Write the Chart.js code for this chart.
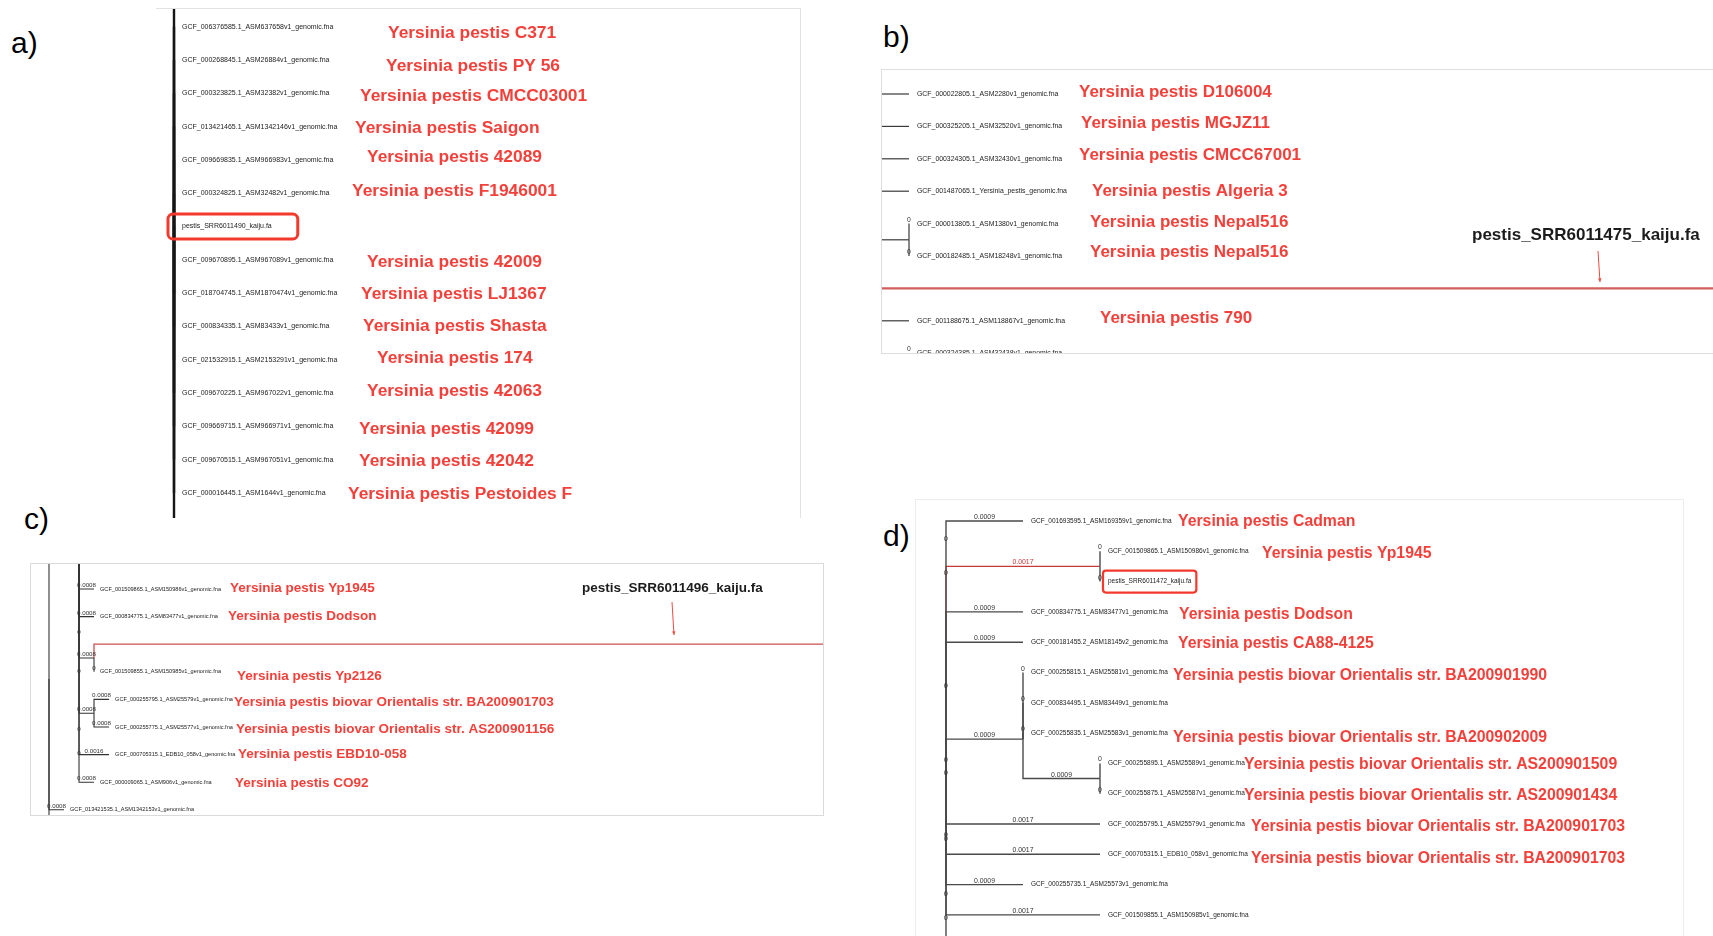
<!DOCTYPE html>
<html><head><meta charset="utf-8">
<script src="https://cdn.jsdelivr.net/npm/chart.js@4.4.1/dist/chart.umd.min.js"></script>
<style>
html,body{margin:0;padding:0;background:#fff;width:1713px;height:936px;overflow:hidden;position:relative;font-family:"Liberation Sans",Arial,sans-serif}
canvas.panel{position:absolute;display:block}
.tag{position:absolute;font-size:30px;line-height:30px;color:#000;font-family:"Liberation Sans",Arial,sans-serif}
</style></head><body>
<div class="tag" style="left:11px;top:28px">a)</div>
<div class="tag" style="left:883px;top:22px">b)</div>
<div class="tag" style="left:24px;top:504px">c)</div>
<div class="tag" style="left:883px;top:521px">d)</div>
<canvas id="ca" class="panel" width="645" height="510" style="left:156px;top:8px"></canvas>
<canvas id="cb" class="panel" width="832" height="285" style="left:881px;top:69px"></canvas>
<canvas id="cc" class="panel" width="794" height="253" style="left:30px;top:563px"></canvas>
<canvas id="cd" class="panel" width="769" height="437" style="left:915px;top:499px"></canvas>
<script>
// ================= DATA =================
// ---- Panel a ----
const aTipNames = ['',
  'GCF_006376585.1_ASM637658v1_genomic.fna','GCF_000268845.1_ASM26884v1_genomic.fna',
  'GCF_000323825.1_ASM32382v1_genomic.fna','GCF_013421465.1_ASM1342146v1_genomic.fna',
  'GCF_009669835.1_ASM966983v1_genomic.fna','GCF_000324825.1_ASM32482v1_genomic.fna',
  'pestis_SRR6011490_kaiju.fa',
  'GCF_009670895.1_ASM967089v1_genomic.fna','GCF_018704745.1_ASM1870474v1_genomic.fna',
  'GCF_000834335.1_ASM83433v1_genomic.fna','GCF_021532915.1_ASM2153291v1_genomic.fna',
  'GCF_009670225.1_ASM967022v1_genomic.fna','GCF_009669715.1_ASM966971v1_genomic.fna',
  'GCF_009670515.1_ASM967051v1_genomic.fna','GCF_000016445.1_ASM1644v1_genomic.fna',''];
const aTipRow = [-1,0,1,2,3,4,5,6,7,8,9,10,11,12,13,14,15];
const aTipParent = Array(17).fill('root');
const aTipLen = [0,0,0,0,0,0,0,0,0,0,0,0,0,0,0,0,0];
const aClades = ['root'], aCladeParent = [null], aCladeLen = [0], aCladeRow = [null];
const aStrains = ['','Yersinia pestis C371','Yersinia pestis PY 56','Yersinia pestis CMCC03001',
  'Yersinia pestis Saigon','Yersinia pestis 42089','Yersinia pestis F1946001','',
  'Yersinia pestis 42009','Yersinia pestis LJ1367','Yersinia pestis Shasta','Yersinia pestis 174',
  'Yersinia pestis 42063','Yersinia pestis 42099','Yersinia pestis 42042','Yersinia pestis Pestoides F',''];
const aZeroMarks = [];

// ---- Panel b ----
const bTipNames = ['GCF_000022805.1_ASM2280v1_genomic.fna','GCF_000325205.1_ASM32520v1_genomic.fna',
  'GCF_000324305.1_ASM32430v1_genomic.fna','GCF_001487065.1_Yersinia_pestis_genomic.fna',
  'GCF_000013805.1_ASM1380v1_genomic.fna','GCF_000182485.1_ASM18248v1_genomic.fna',
  'pestis_SRR6011475_kaiju.fa','GCF_001188675.1_ASM118867v1_genomic.fna',
  'GCF_000324385.1_ASM32438v1_genomic.fna',''];
const bTipRow = [0,1,2,3,4,5,6,7,8,9];
const bTipParent = ['root','root','root','root','N','N','root','root','M','M'];
const bTipLen = [0.0009,0.0009,0.0009,0.0009,0,0,0.05,0.0009,0,0];
const bClades = ['root','N','M'], bCladeParent = [null,'root','root'], bCladeLen = [0,0.0009,0.0009], bCladeRow = [null,4.5,8.5];
const bStrains = ['Yersinia pestis D106004','Yersinia pestis MGJZ11','Yersinia pestis CMCC67001',
  'Yersinia pestis Algeria 3','Yersinia pestis Nepal516','Yersinia pestis Nepal516','',
  'Yersinia pestis 790','',''];
const bZeroMarks = [];

// ---- Panel c ----
const cTipNames = ['','GCF_000834455.1_ASM83445v1_genomic.fna',
  'GCF_001509865.1_ASM150986v1_genomic.fna','GCF_000834775.1_ASM83477v1_genomic.fna',
  'pestis_SRR6011496_kaiju.fa','GCF_001509855.1_ASM150985v1_genomic.fna',
  'GCF_000255795.1_ASM25579v1_genomic.fna','GCF_000255775.1_ASM25577v1_genomic.fna',
  'GCF_000705315.1_EDB10_058v1_genomic.fna','GCF_000009065.1_ASM906v1_genomic.fna',
  'GCF_013421535.1_ASM1342153v1_genomic.fna',''];
const cTipRow = [-1,0,1,2,3,4,5,6,7,8,9,10.5];
const cTipParent = ['I','I','I','I','K','K','O','O','I','I','root','root'];
const cTipLen = [0.00082,0.00082,0.00082,0.00082,0.1,0,0.00082,0.00082,0.00164,0.00082,0.00082,0.00082];
const cClades = ['root','I','K','O'], cCladeParent = [null,'root','I','I'], cCladeLen = [0,0.00164,0.00082,0.00082], cCladeRow = [null,-2,3.5,5.5];
const cStrains = ['','','Yersinia pestis Yp1945','Yersinia pestis Dodson','','Yersinia pestis Yp2126',
  'Yersinia pestis biovar Orientalis str. BA200901703','Yersinia pestis biovar Orientalis str. AS200901156',
  'Yersinia pestis EBD10-058','Yersinia pestis CO92','',''];
const cZeroMarks = [['I',2.7],['I',4.1],['I',6.2],['I',7.1]];

// ---- Panel d ----
const dTipNames = ['GCF_001693595.1_ASM169359v1_genomic.fna','GCF_001509865.1_ASM150986v1_genomic.fna',
  'pestis_SRR6011472_kaiju.fa','GCF_000834775.1_ASM83477v1_genomic.fna',
  'GCF_000181455.2_ASM18145v2_genomic.fna','GCF_000255815.1_ASM25581v1_genomic.fna',
  'GCF_000834495.1_ASM83449v1_genomic.fna','GCF_000255835.1_ASM25583v1_genomic.fna',
  'GCF_000255895.1_ASM25589v1_genomic.fna','GCF_000255875.1_ASM25587v1_genomic.fna',
  'GCF_000255795.1_ASM25579v1_genomic.fna','GCF_000705315.1_EDB10_058v1_genomic.fna',
  'GCF_000255735.1_ASM25573v1_genomic.fna','GCF_001509855.1_ASM150985v1_genomic.fna',''];
const dTipRow = [0,1,2,3,4,5,6,7,8,9,10,11,12,13,14.5];
const dTipParent = ['root','A','A','root','root','B','B','B','C','C','root','root','root','root','root'];
const dTipLen = [0.00086,0,0,0.00086,0.00086,0,0,0,0,0,0.00172,0.00172,0.00086,0.00172,0.00086];
const dClades = ['root','A','B','C'], dCladeParent = [null,'root','root','B'], dCladeLen = [0,0.00172,0.00086,0.00086], dCladeRow = [null,1.5,7.2,8.5];
const dStrains = ['Yersinia pestis Cadman','Yersinia pestis Yp1945','','Yersinia pestis Dodson',
  'Yersinia pestis CA88-4125','Yersinia pestis biovar Orientalis str. BA200901990','',
  'Yersinia pestis biovar Orientalis str. BA200902009','Yersinia pestis biovar Orientalis str. AS200901509',
  'Yersinia pestis biovar Orientalis str. AS200901434','Yersinia pestis biovar Orientalis str. BA200901703',
  'Yersinia pestis biovar Orientalis str. BA200901703','','',''];
const dZeroMarks = [['root',0.73],['root',1.85],['root',5.58],['root',8.02],['root',8.45],['root',10.48],['root',10.64],['root',12.44],['root',13.24]];

// ================= LAYOUT / STYLE =================
const FONT = '"Liberation Sans", Arial, sans-serif';
const RED_TXT = '#f4403a';
const PANELS = {
  ca: {left:156, top:8, w:645, h:510, rootPx:18, unitPx:1000, row0Px:18.7, rowPx:33.3,
       tree:[aTipNames,aTipRow,aTipParent,aTipLen,aClades,aCladeParent,aCladeLen,aCladeRow],
       strains:aStrains, zeros:aZeroMarks, lenMode:'none',
       lineColor:'#151515', lineWidth:2.4, hiColor:'#cc3b3b', hiWidth:1.2, highlight:[],
       tipFont:7, tipGap:8, lenFont:6.5, strainFont:17.4,
       strainPlace:[[388,7],[386,6],[360,3],[355,2],[367,-3],[352,-2],[367,2],[361,1],[363,0],[377,-1],[367,-2],[359,3],[359,2],[348,1]],
       box:{tip:'t7', padL:14, padR:26, h:25, lw:3, r:5},
       frame:{top:true,right:true,left:false,bottom:false,color:'#e2e2e2'}},
  cb: {left:881, top:69, w:832, h:285, rootPx:-1, unitPx:32222, row0Px:25, rowPx:32.4,
       tree:[bTipNames,bTipRow,bTipParent,bTipLen,bClades,bCladeParent,bCladeLen,bCladeRow],
       strains:bStrains, zeros:bZeroMarks, lenMode:'zero',
       lineColor:'#3a3a3a', lineWidth:1.2, hiColor:'rgba(205,75,75,0.9)', hiWidth:2.2, highlight:['t6'],
       tipFont:6.9, tipGap:8, lenFont:6.8, strainFont:17,
       strainPlace:[[1079,-2],[1081,-3],[1079,-3],[1092,0],[1090,-1],[1090,-4],[1100,-2]],
       note:{text:'pestis_SRR6011475_kaiju.fa', x:1472, y:235, size:17, a:[1598,251,1600,282]},
       frame:{top:true,right:false,left:true,bottom:true,color:'#dddddd'}},
  cc: {left:30, top:563, w:794, h:253, rootPx:19, unitPx:18300, row0Px:-1.6, rowPx:27.6,
       tree:[cTipNames,cTipRow,cTipParent,cTipLen,cClades,cCladeParent,cCladeLen,cCladeRow],
       strains:cStrains, zeros:cZeroMarks, lenMode:'all',
       lineColor:'#333', lineWidth:1.1, hiColor:'#cc5050', hiWidth:1.3, highlight:['t4'],
       tipFont:5.6, tipGap:6, lenFont:6.2, strainFont:13.5,
       strainPlace:[[230,-1],[228,0],[237,4],[234,3],[236,2],[238,0],[235,1]],
       note:{text:'pestis_SRR6011496_kaiju.fa', x:582, y:588, size:13.5, a:[672,602,674,635]},
       frame:{top:true,right:true,left:true,bottom:true,color:'#dadada'}},
  cd: {left:915, top:499, w:769, h:437, rootPx:31, unitPx:89535, row0Px:22, rowPx:30.3,
       tree:[dTipNames,dTipRow,dTipParent,dTipLen,dClades,dCladeParent,dCladeLen,dCladeRow],
       strains:dStrains, zeros:dZeroMarks, lenMode:'all',
       lineColor:'#4a4a4a', lineWidth:1.4, hiColor:'#c83a3a', hiWidth:1.2, highlight:['A'],
       tipFont:6.5, tipGap:8, lenFont:6.9, strainFont:15.8,
       strainPlace:[[1178,1],[1262,2],[1179,3],[1178,1],[1173,3],[1173,5],[1244,1],[1244,2],[1251,3],[1251,4]],
       box:{tip:'t2', padL:5, padR:5, h:22, lw:2.2, r:3},
       frame:{top:true,right:true,left:true,bottom:false,color:'#ececec'}}
};

// ================= TREE BUILD =================
function buildTree(tips, tipRow, tipParent, tipLen, clades, cladeParent, cladeLen, cladeRow) {
  const nodes = {};
  clades.forEach((id, i) => nodes[id] = {id, parent: cladeParent[i], len: cladeLen[i], row: cladeRow[i], tip: false, kids: []});
  tips.forEach((name, i) => nodes['t' + i] = {id: 't' + i, name, parent: tipParent[i], len: tipLen[i], row: tipRow[i], tip: true});
  Object.values(nodes).forEach(n => { if (n.parent) nodes[n.parent].kids.push(n.id); });
  clades.forEach(id => { const n = nodes[id]; n.x = n.parent ? nodes[n.parent].x + n.len : 0; });
  tips.forEach((_, i) => { const n = nodes['t' + i]; n.x = nodes[n.parent].x + n.len; });
  [...clades].reverse().forEach(id => {
    const n = nodes[id];
    if (n.row === null) {
      const rows = n.kids.map(k => nodes[k].row);
      n.row = (Math.min(...rows) + Math.max(...rows)) / 2;
    }
  });
  return nodes;
}

function treeDatasets(nodes, P) {
  const ds = [];
  Object.values(nodes).forEach(n => {
    if (!n.parent) return;
    const p = nodes[n.parent];
    const hi = P.highlight.includes(n.id);
    ds.push({
      data: [{x: p.x, y: p.row}, {x: p.x, y: n.row}, {x: n.x, y: n.row}],
      showLine: true, pointRadius: 0, pointHoverRadius: 0,
      borderColor: hi ? P.hiColor : P.lineColor,
      borderWidth: hi ? P.hiWidth : P.lineWidth,
      order: hi ? 1 : 0, clip: 0, tension: 0, fill: false,
      borderJoinStyle: 'miter', borderCapStyle: 'butt'
    });
  });
  return ds;
}

function fmtLen(v) { return v === 0 ? '0' : v.toFixed(4); }

const treeText = {
  id: 'treeText',
  afterDatasetsDraw(chart) {
    const P = PANELS[chart.canvas.id];
    const nodes = P.nodes;
    const ctx = chart.ctx, xs = chart.scales.x, ys = chart.scales.y;
    const X = v => xs.getPixelForValue(v), Y = v => ys.getPixelForValue(v);
    ctx.save();
    ctx.beginPath(); ctx.rect(0, 0, chart.width, chart.height); ctx.clip();

    // branch length labels
    if (P.lenMode !== 'none') {
      ctx.font = `${P.lenFont}px ${FONT}`;
      ctx.textAlign = 'center'; ctx.textBaseline = 'alphabetic';
      Object.values(nodes).forEach(n => {
        if (!n.parent) return;
        if (P.lenMode === 'zero' && n.len !== 0) return;
        const p = nodes[n.parent];
        ctx.fillStyle = P.highlight.includes(n.id) ? P.hiColor : '#333';
        ctx.fillText(fmtLen(n.len), (X(p.x) + X(n.x)) / 2, Y(n.row) - 2);
      });
      ctx.fillStyle = '#333';
      P.zeros.forEach(([cid, row]) => ctx.fillText('0', X(nodes[cid].x), Y(row) - 2));
    }

    // tip names
    ctx.font = `${P.tipFont}px ${FONT}`;
    ctx.fillStyle = '#222'; ctx.textAlign = 'left'; ctx.textBaseline = 'middle';
    Object.values(nodes).forEach(n => {
      if (n.tip && n.name) ctx.fillText(n.name, X(n.x) + P.tipGap, Y(n.row));
    });

    // highlight box around a tip label
    if (P.box) {
      const n = nodes[P.box.tip];
      const tx = X(n.x) + P.tipGap, ty = Y(n.row);
      const tw = ctx.measureText(n.name).width;
      const bx = tx - P.box.padL, bw = tw + P.box.padL + P.box.padR, by = ty - P.box.h / 2;
      ctx.strokeStyle = '#f2392c'; ctx.lineWidth = P.box.lw;
      ctx.beginPath(); ctx.roundRect(bx, by, bw, P.box.h, P.box.r); ctx.stroke();
    }

    // strain labels (red)
    ctx.font = `bold ${P.strainFont}px ${FONT}`;
    ctx.fillStyle = RED_TXT; ctx.textAlign = 'left'; ctx.textBaseline = 'middle';
    let k = 0;
    P.strains.forEach((s, i) => {
      if (!s) return;
      const [px, dy] = P.strainPlace[k++];
      const n = nodes['t' + i];
      ctx.fillText(s, px - P.left, Y(n.row) + dy);
    });

    // annotation with arrow
    if (P.note) {
      const a = P.note;
      ctx.font = `bold ${a.size}px ${FONT}`;
      ctx.fillStyle = '#1c1c1c'; ctx.textBaseline = 'middle';
      ctx.fillText(a.text, a.x - P.left, a.y - P.top);
      const x1 = a.a[0] - P.left, y1 = a.a[1] - P.top, x2 = a.a[2] - P.left, y2 = a.a[3] - P.top;
      ctx.strokeStyle = '#f04a40'; ctx.lineWidth = 1;
      ctx.beginPath(); ctx.moveTo(x1, y1); ctx.lineTo(x2, y2); ctx.stroke();
      const ang = Math.atan2(y2 - y1, x2 - x1);
      ctx.fillStyle = '#f04a40';
      ctx.beginPath();
      ctx.moveTo(x2, y2);
      ctx.lineTo(x2 - 4 * Math.cos(ang - 0.45), y2 - 4 * Math.sin(ang - 0.45));
      ctx.lineTo(x2 - 4 * Math.cos(ang + 0.45), y2 - 4 * Math.sin(ang + 0.45));
      ctx.closePath(); ctx.fill();
    }

    // frame
    const f = P.frame, W = chart.width, H = chart.height;
    ctx.strokeStyle = f.color; ctx.lineWidth = 1;
    ctx.beginPath();
    if (f.top) { ctx.moveTo(0, 0.5); ctx.lineTo(W, 0.5); }
    if (f.bottom) { ctx.moveTo(0, H - 0.5); ctx.lineTo(W, H - 0.5); }
    if (f.left) { ctx.moveTo(0.5, 0); ctx.lineTo(0.5, H); }
    if (f.right) { ctx.moveTo(W - 0.5, 0); ctx.lineTo(W - 0.5, H); }
    ctx.stroke();
    ctx.restore();
  }
};

Object.entries(PANELS).forEach(([id, P]) => {
  P.nodes = buildTree(...P.tree);
  const xmin = -P.rootPx / P.unitPx, ymin = -P.row0Px / P.rowPx;
  new Chart(document.getElementById(id), {
    type: 'scatter',
    data: {datasets: treeDatasets(P.nodes, P)},
    options: {
      responsive: false, animation: false, devicePixelRatio: 1, events: [],
      layout: {padding: 0},
      plugins: {legend: {display: false}, tooltip: {enabled: false}},
      scales: {
        x: {type: 'linear', display: false, min: xmin, max: xmin + P.w / P.unitPx},
        y: {type: 'linear', display: false, reverse: true, min: ymin, max: ymin + P.h / P.rowPx}
      }
    },
    plugins: [treeText]
  });
});
</script>
</body></html>
